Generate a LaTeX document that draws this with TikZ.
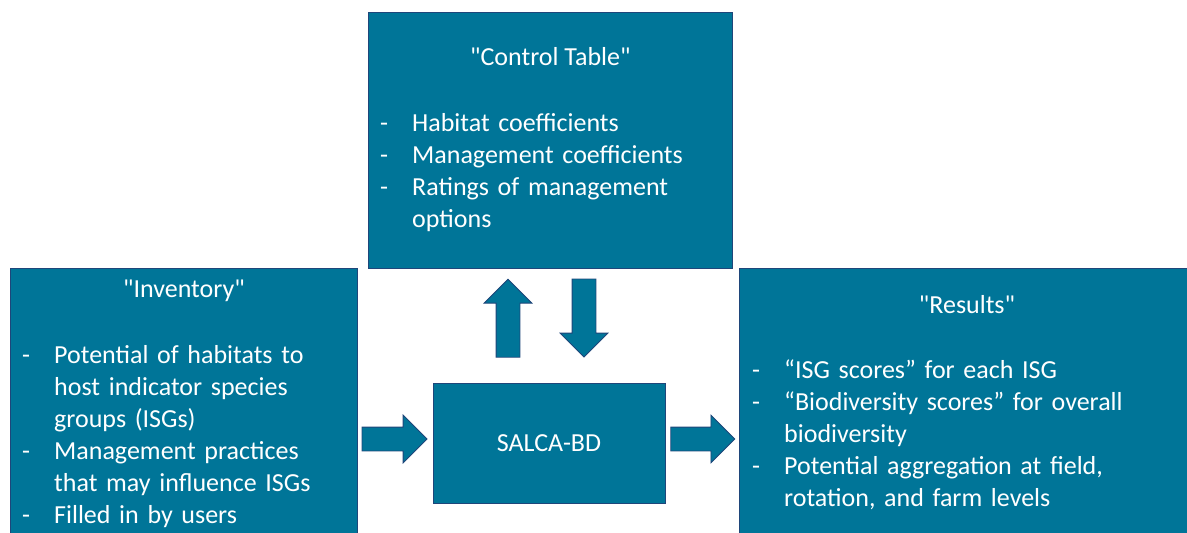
\documentclass[tikz,border=0pt]{standalone}
\usepackage{fontspec}
\setmainfont{Carlito}
\usetikzlibrary{shapes.arrows, positioning, calc}
\definecolor{salcablue}{RGB}{0,117,152}
\definecolor{salcaline}{RGB}{31,70,122}
\newcommand{\dashitem}[1]{\hangindent=32pt\hangafter=1\noindent\makebox[32pt][l]{-}#1\par}
\tikzset{
    x=1pt, y=-1pt, % pixel-like units, y runs downwards
    box/.style={draw=salcaline, fill=salcablue, line width=0.8pt, anchor=north west, inner sep=0pt}, % the teal boxes
    boxtext/.style={text=white, font=\fontsize{26}{32}\selectfont, inner sep=0pt}, % white text in the boxes
    listtext/.style={boxtext, text width=420pt, align=left, anchor=base west}, % dashed lists
    blockarrow/.style={single arrow, draw=salcaline, fill=salcablue, line width=0.8pt, inner xsep=0pt, inner ysep=11.5pt, minimum width=46pt, single arrow head extend=12pt}, % fat arrows
}
\begin{document}
\begin{tikzpicture}
    \clip (0,0) rectangle (1187,533);
    \useasboundingbox (0,0) rectangle (1187,533);
    % boxes
    \node[box, minimum width=364pt, minimum height=256pt] (ctrl) at (368,12) {};
    \node[box, minimum width=347pt, minimum height=290pt] (inv) at (10,268) {};
    \node[box, minimum width=460pt, minimum height=290pt] (res) at (739,268) {};
    \node[box, boxtext, anchor=center, minimum width=232pt, minimum height=120pt] (salca) at (549,443) {SALCA-BD};
    % texts
    \node[boxtext, anchor=base] (ctrlTitle) at ([yshift=-53pt]ctrl.north) {\textquotedbl Control Table\textquotedbl};
    \node[listtext] (ctrlList) at ([xshift=12pt, yshift=-119pt]ctrl.north west) {%
        \dashitem{Habitat coefficients}%
        \dashitem{Management coefficients}%
        \dashitem{Ratings of management\newline options}};
    \node[boxtext, anchor=base] (invTitle) at ([yshift=-29pt]inv.north) {\textquotedbl Inventory\textquotedbl};
    \node[listtext] (invList) at ([xshift=12pt, yshift=-95pt]inv.north west) {%
        \dashitem{Potential of habitats to\newline host indicator species\newline groups (ISGs)}%
        \dashitem{Management practices\newline that may influence ISGs}%
        \dashitem{Filled in by users}};
    \node[boxtext, anchor=base] (resTitle) at (967,313) {\textquotedbl Results\textquotedbl};
    \node[listtext] (resList) at ([xshift=13pt, yshift=-110pt]res.north west) {%
        \dashitem{“ISG scores” for each ISG}%
        \dashitem{“Biodiversity scores” for overall\newline biodiversity}%
        \dashitem{Potential aggregation at field,\newline rotation, and farm levels}};
    % arrows
    \node[blockarrow, minimum height=65pt, anchor=tip] (toSalca) at ([xshift=-5pt, yshift=4pt]salca.west) {};
    \node[blockarrow, minimum height=64pt, anchor=tail] (toRes) at ([xshift=5pt, yshift=4pt]salca.east) {};
    \node[blockarrow, minimum height=78pt, rotate=90, anchor=tail] (toCtrl) at ([xshift=-41pt, yshift=25pt]salca.north) {};
    \node[blockarrow, minimum height=78pt, rotate=-90, anchor=tip] (fromCtrl) at ([xshift=35pt, yshift=25pt]salca.north) {};
\end{tikzpicture}
\end{document}
